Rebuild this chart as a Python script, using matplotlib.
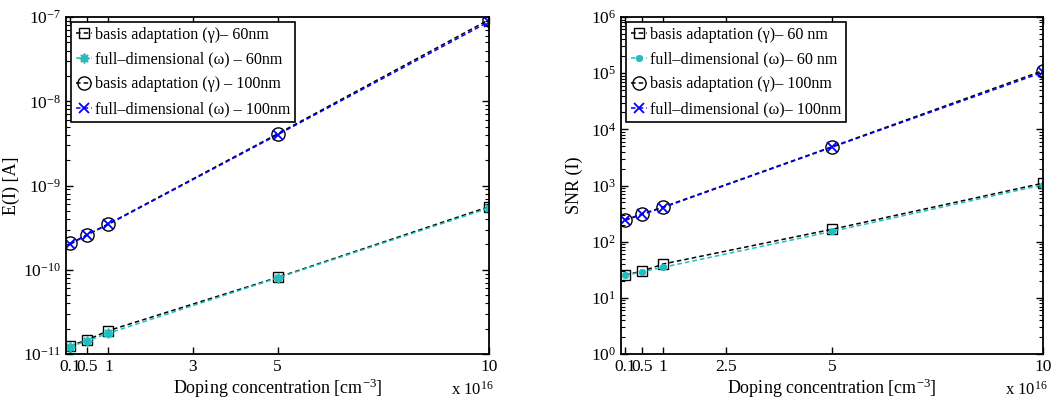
import matplotlib
matplotlib.use("Agg")
import matplotlib.pyplot as plt
from matplotlib.ticker import LogLocator, NullFormatter

plt.rcParams['font.family'] = ['Liberation Serif', 'DejaVu Serif']
plt.rcParams['mathtext.fontset'] = 'custom'
plt.rcParams['mathtext.rm'] = 'Liberation Serif'
plt.rcParams['mathtext.it'] = 'Liberation Serif:italic'
plt.rcParams['mathtext.bf'] = 'Liberation Serif:bold'

doping = [0.1, 0.5, 1, 5, 10]

# left: mean current E(I) [A]
cur_ba_60 = [1.25e-11, 1.47e-11, 1.89e-11, 8.1e-11, 5.6e-10]
cur_fd_60 = [1.22e-11, 1.43e-11, 1.76e-11, 8.0e-11, 5.4e-10]
cur_ba_100 = [2.05e-10, 2.6e-10, 3.5e-10, 4.1e-9, 9.3e-8]
cur_fd_100 = [2.0e-10, 2.6e-10, 3.45e-10, 4.0e-9, 8.8e-8]

# right: SNR (I)
snr_ba_60 = [25.6, 29.7, 40, 166, 1100]
snr_fd_60 = [25, 29, 35, 152, 1030]
snr_ba_100 = [245, 310, 415, 4900, 1.11e5]
snr_fd_100 = [240, 305, 405, 4800, 1.04e5]

labels_left = [u'basis adaptation (\u03b3)\u2013 60nm',
               u'full\u2013dimensional (\u03c9) \u2013 60nm',
               u'basis adaptation (\u03b3) \u2013 100nm',
               u'full\u2013dimensional (\u03c9) \u2013 100nm']
labels_right = [u'basis adaptation (\u03b3)\u2013 60 nm',
                u'full\u2013dimensional (\u03c9)\u2013 60 nm',
                u'basis adaptation (\u03b3)\u2013 100nm',
                u'full\u2013dimensional (\u03c9)\u2013 100nm']

cyan = '#1fbfbf'
dash = (0, (3, 2))

fig = plt.figure(figsize=(10.6, 4.03), dpi=100)
ax1 = fig.add_axes([0.0623, 0.1216, 0.3990, 0.8362])
ax2 = fig.add_axes([0.5858, 0.1216, 0.3982, 0.8362])


def draw(ax, series, labels, xticks, ylim, ylabel, ylab_x, star_ms):
    styles = [dict(color='k', marker='s', ms=7.5, mfc='none'),
              dict(color=cyan, marker=(8, 2, 0), ms=star_ms, mew=1.3),
              dict(color='k', marker='o', ms=9.5, mfc='none'),
              dict(color='b', marker='x', ms=7.5, mew=1.3)]
    for ys, lab, st in zip(series, labels, styles):
        ax.semilogy(doping, ys, linestyle=dash, lw=1.1, label=lab, **st)
    ax.set_xlim(0, 10)
    ax.set_ylim(*ylim)
    ax.set_xticks(xticks)
    ax.set_xticklabels([('%g' % t) for t in xticks])
    ax.yaxis.set_major_locator(LogLocator(base=10, numticks=20))
    ax.yaxis.set_minor_locator(LogLocator(base=10, subs=range(2, 10), numticks=20))
    ax.yaxis.set_minor_formatter(NullFormatter())
    ax.tick_params(which='both', direction='in', top=True, right=True, labelsize=12.5)
    ax.tick_params(which='major', length=5, width=1)
    ax.tick_params(which='minor', length=3, width=0.8)
    for s in ax.spines.values():
        s.set_linewidth(1.3)
    ax.set_xlabel('Doping concentration [cm$^{-3}$]', fontsize=13, labelpad=1)
    ax.set_ylabel(ylabel, fontsize=13)
    ax.yaxis.set_label_coords(ylab_x, 0.5)
    ax.text(1.01, -0.105, 'x 10$^{16}$', transform=ax.transAxes, ha='right',
            va='center', fontsize=12)
    leg = ax.legend(loc='upper left', fontsize=11.6, fancybox=False, framealpha=1,
                    borderpad=0.3, labelspacing=0.55, handlelength=1.0,
                    handletextpad=0.2, borderaxespad=0.3)
    leg.get_frame().set_edgecolor('k')
    leg.get_frame().set_linewidth(1.2)


draw(ax1, [cur_ba_60, cur_fd_60, cur_ba_100, cur_fd_100], labels_left,
     [0.1, 0.5, 1, 3, 5, 10], (1e-11, 1e-7), 'E(I) [A]', -0.109, 7)
draw(ax2, [snr_ba_60, snr_fd_60, snr_ba_100, snr_fd_100], labels_right,
     [0.1, 0.5, 1, 2.5, 5, 10], (1, 1e6), 'SNR (I)', -0.09, 5)

fig.savefig('out.png', dpi=100)
